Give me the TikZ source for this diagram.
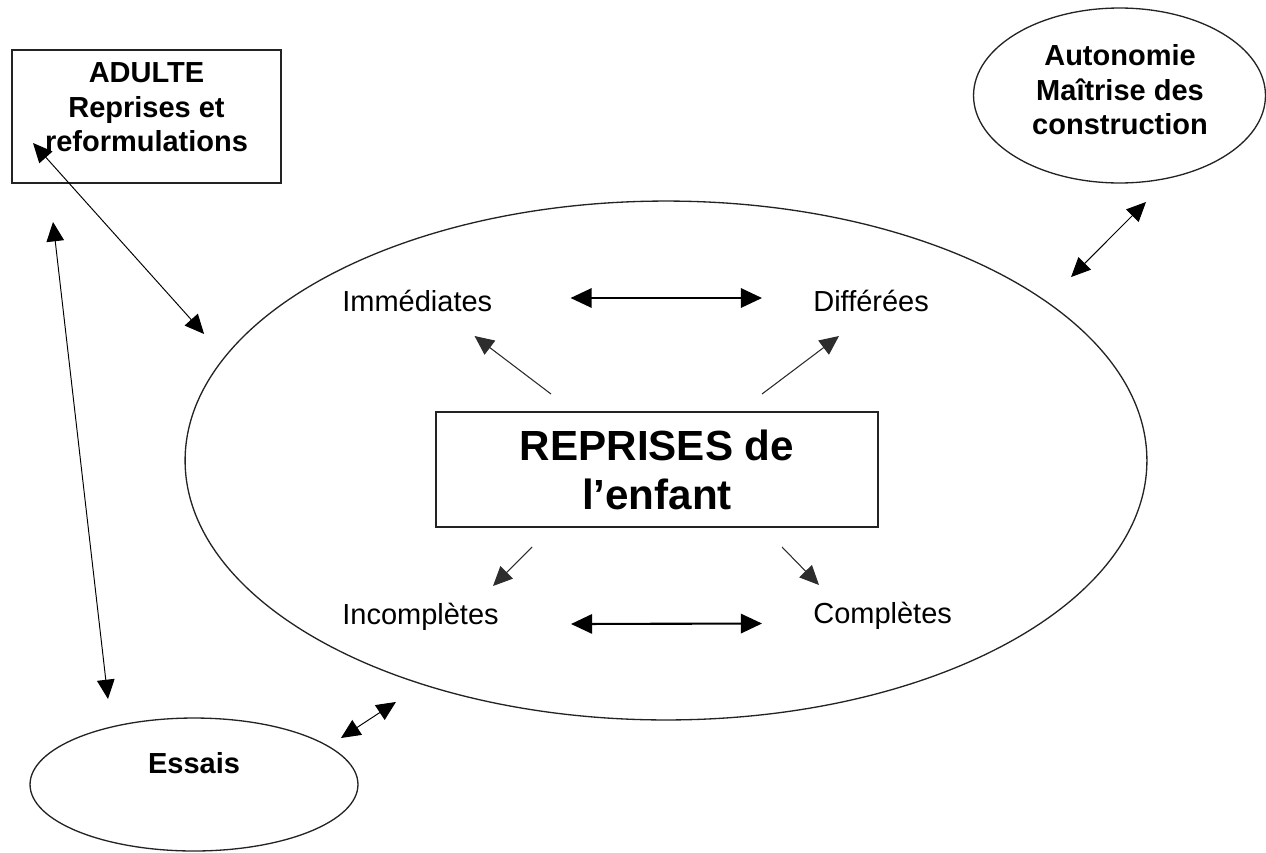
\documentclass[tikz,border=0pt]{standalone}
\usepackage{fontspec}
\setmainfont{Liberation Sans}
\usetikzlibrary{shapes.geometric,arrows.meta,calc}
\definecolor{lineColor}{RGB}{35, 35, 35}
\definecolor{thinColor}{RGB}{45, 45, 45}

\begin{document}
\begin{tikzpicture}[x=0.02cm, y=-0.02cm,
    labelText/.style={inner sep=0pt, font=\fontsize{16.5}{19.8}\selectfont},
    boldText/.style={align=center, inner sep=0pt, font=\fontsize{16.5}{19.6}\selectfont\bfseries},
    frame/.style={draw=lineColor, line width=0.75pt, outer sep=0pt, inner sep=0pt},
    oval/.style={frame, ellipse},
    bigArrow/.style={{Triangle[length=12pt,width=11pt]}-{Triangle[length=12pt,width=11pt]}, line width=1.2pt},
    thinArrow/.style={-{Triangle[length=11pt,width=10pt]}, line width=0.6pt, draw=thinColor, fill=black},
    linkArrow/.style={{Triangle[length=11pt,width=10pt]}-{Triangle[length=11pt,width=10pt]}, line width=0.55pt}]
    \useasboundingbox (0,0) rectangle (1266,852);

    % The child's reprises
    \node[oval, minimum width=19.24cm, minimum height=10.38cm] (reprises) at (666,460.5) {};
    \node[frame, minimum width=8.84cm, minimum height=2.3cm, align=center,
          font=\fontsize{24}{27.8}\selectfont\bfseries] (centre) at (657,469.5) {REPRISES de\\l’enfant};

    \node[labelText, anchor=base west] (imm) at (342,311) {Immédiates};
    \node[labelText, anchor=base west] (dif) at (813,311) {Différées};
    \node[labelText, anchor=base west] (incompl) at (342,624) {Incomplètes};
    \node[labelText, anchor=base west] (compl) at (813,623.5) {Complètes};

    % Outer boxes
    \node[frame, minimum width=5.38cm, minimum height=2.66cm] (adulte) at (146.5,116.5) {};
    \node[boldText] (adulteTxt) at (146.5,107.5) {ADULTE\\Reprises et\\reformulations};

    \node[oval, minimum width=5.84cm, minimum height=3.5cm] (autonomie) at (1119.5,95.5) {};
    \node[boldText] (autonomieTxt) at (1120,90) {Autonomie\\Maîtrise des\\construction};

    \node[oval, minimum width=6.56cm, minimum height=2.66cm] (essais) at (194,784.5) {};
    \node[boldText] (essaisTxt) at (194,763.5) {Essais};

    % Arrows inside
    \draw[bigArrow] ($(imm.base east)+(78,-13)$) -- ($(dif.base west)+(-51,-13)$);
    \draw[bigArrow] ($(incompl.base east)+(72,0)$) -- ($(compl.base west)+(-51,0)$);

    \draw[thinArrow] ($(centre.north)+(-106,-18)$) -- ($(imm.base east)+(-18,25)$);
    \draw[thinArrow] ($(centre.north)+(105,-18)$) -- ($(dif.base west)+(26,25)$);
    \draw[thinArrow] ($(centre.south)+(-125,20)$) -- ($(incompl.base east)+(-6,-38)$);
    \draw[thinArrow] ($(centre.south)+(125,20)$) -- ($(compl.base west)+(6,-38.5)$);

    % Arrows outside
    \draw[linkArrow] ($(adulte.south west)+(21,-40)$) -- ($(reprises.west)+(19,-126.5)$);
    \draw[linkArrow] ($(adulte.south west)+(41,39)$) -- ($(essais.north)+(-86,-19)$);
    \draw[linkArrow] ($(essais.east)+(-17,-46.5)$) -- ($(reprises.south west)+(70,58)$);
    \draw[linkArrow] ($(reprises.north east)+(65,0)$) -- ($(autonomie.south)+(26.5,19)$);
\end{tikzpicture}
\end{document}
